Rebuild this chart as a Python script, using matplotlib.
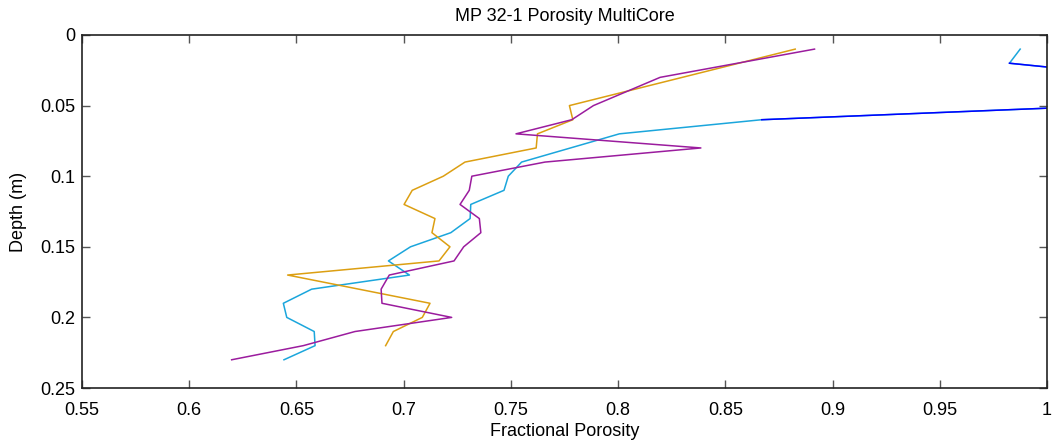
#!/usr/bin/env python3
# MP 32-1 porosity profiles from the multicore

import matplotlib
matplotlib.use('Agg')
import matplotlib.pyplot as plt

# core 1 (cyan, runs off the right edge near the top)
DEPTH_A = [0.01, 0.02, 0.03, 0.04, 0.05, 0.06, 0.07, 0.09, 0.10, 0.11,
           0.12, 0.13, 0.14, 0.15, 0.16, 0.17, 0.18, 0.19, 0.20, 0.21,
           0.22, 0.23]
POR_A = [0.9875, 0.9825, 1.048, 1.06, 1.03, 0.867, 0.8006, 0.755, 0.7488,
         0.7468, 0.7313, 0.731, 0.722, 0.7032, 0.6929, 0.7027, 0.6571,
         0.6439, 0.6455, 0.6583, 0.6587, 0.6442]

# core 2 (orange)
DEPTH_B = [0.01, 0.05, 0.06, 0.07, 0.08, 0.09, 0.10, 0.11, 0.12, 0.13,
           0.14, 0.15, 0.16, 0.17, 0.19, 0.20, 0.21, 0.22]
POR_B = [0.8826, 0.7773, 0.7789, 0.7624, 0.7618, 0.7286, 0.7185, 0.704,
         0.7002, 0.7146, 0.7132, 0.7216, 0.7165, 0.6459, 0.7123, 0.7087,
         0.6952, 0.6916]

# core 3 (purple)
DEPTH_C = [0.01, 0.03, 0.05, 0.06, 0.07, 0.08, 0.09, 0.10, 0.11, 0.12,
           0.13, 0.14, 0.15, 0.16, 0.17, 0.18, 0.19, 0.20, 0.21, 0.22,
           0.23]
POR_C = [0.8916, 0.8196, 0.7885, 0.7784, 0.7524, 0.8386, 0.7659, 0.7318,
         0.7306, 0.7263, 0.7353, 0.736, 0.728, 0.7235, 0.6933, 0.6895,
         0.6899, 0.7224, 0.6773, 0.6532, 0.6198]

X_TICKS = [0.55, 0.6, 0.65, 0.7, 0.75, 0.8, 0.85, 0.9, 0.95, 1.0]
X_LABELS = ['0.55', '0.6', '0.65', '0.7', '0.75', '0.8', '0.85', '0.9',
            '0.95', '1']
Y_TICKS = [0, 0.05, 0.1, 0.15, 0.2, 0.25]
Y_LABELS = ['0', '0.05', '0.1', '0.15', '0.2', '0.25']

CYAN = '#1ba6dc'
BLUE = '#0000ff'
ORANGE = '#dc9f12'
PURPLE = '#9b1c9e'


def main():
    plt.rcParams['font.family'] = ['Liberation Sans', 'DejaVu Sans']
    fig = plt.figure(figsize=(10.55, 4.48), dpi=100)
    ax = fig.add_axes([0.0777, 0.1339, 0.9147, 0.788])

    ax.plot(POR_A, DEPTH_A, color=CYAN, lw=1.1)
    # the part of the first profile that leaves the axes shows up blue
    ax.plot(POR_A[1:6], DEPTH_A[1:6], color=BLUE, lw=1.1)
    ax.plot(POR_B, DEPTH_B, color=ORANGE, lw=1.1)
    ax.plot(POR_C, DEPTH_C, color=PURPLE, lw=1.1)

    ax.set_xlim(0.55, 1.0)
    ax.set_ylim(0.25, 0)
    ax.set_xticks(X_TICKS)
    ax.set_xticklabels(X_LABELS)
    ax.set_yticks(Y_TICKS)
    ax.set_yticklabels(Y_LABELS)
    ax.tick_params(direction='in', length=6, width=1, color='#555555',
                   top=True, right=True, labelsize=13)
    ax.tick_params(axis='x', pad=10)
    ax.tick_params(axis='y', pad=5)
    for spine in ax.spines.values():
        spine.set_linewidth(1.2)
        spine.set_color('#222222')

    ax.set_title('MP 32-1 Porosity MultiCore', fontsize=13, pad=10)
    ax.set_xlabel('Fractional Porosity', fontsize=13, labelpad=3)
    ax.set_ylabel('Depth (m)', fontsize=13, labelpad=9)

    fig.savefig('out.png', dpi=100)


if __name__ == '__main__':
    main()
